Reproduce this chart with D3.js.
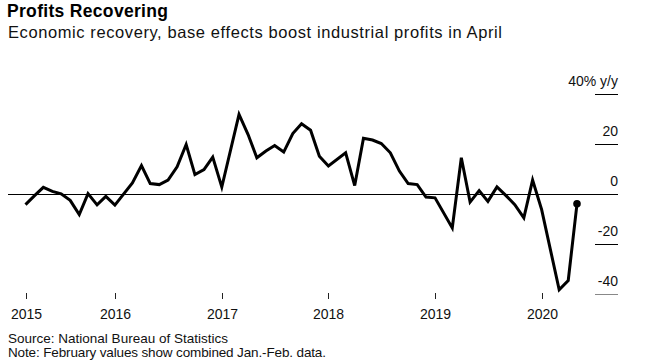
<!DOCTYPE html>
<html lang="en">
<head>
<meta charset="utf-8">
<script src="https://d3js.org/d3.v7.min.js"></script>
<style type="text/css">

body {
	margin: 0;
	background-color: #ffffff;
	font-family: "Liberation Sans", Arial, sans-serif;
}

.title {
	font-size: 17.5px;
	font-weight: 700;
	fill: #000;
}

.subtitle {
	font-size: 16.5px;
	fill: #111;
}

.axis text {
	font-size: 14px;
	fill: #111;
}

.foot {
	font-size: 13.5px;
	fill: #111;
}

</style>
</head>
<body>
<script type="text/javascript">

// chart data: monthly industrial profits, % y/y (Jan. folded into Feb.)
var months = [
	"2015-02","2015-03","2015-04","2015-05","2015-06","2015-07","2015-08","2015-09","2015-10","2015-11","2015-12",
	"2016-02","2016-03","2016-04","2016-05","2016-06","2016-07","2016-08","2016-09","2016-10","2016-11","2016-12",
	"2017-02","2017-03","2017-04","2017-05","2017-06","2017-07","2017-08","2017-09","2017-10","2017-11","2017-12",
	"2018-02","2018-03","2018-04","2018-05","2018-06","2018-07","2018-08","2018-09","2018-10","2018-11","2018-12",
	"2019-02","2019-03","2019-04","2019-05","2019-06","2019-07","2019-08","2019-09","2019-10","2019-11","2019-12",
	"2020-02","2020-03","2020-04"
];
var profits = [
	-4.3, -0.7, 2.6, 1.0, 0.0, -2.6, -8.3, 0.1, -4.4, -1.0, -4.5,
	4.4, 11.3, 4.1, 3.7, 5.5, 10.8, 19.7, 7.7, 9.7, 14.7, 2.7,
	31.7, 23.7, 14.4, 17.1, 19.3, 16.7, 24.1, 28.0, 25.4, 15.0, 11.1,
	16.4, 3.3, 22.2, 21.5, 20.1, 16.4, 9.1, 4.1, 3.7, -1.3, -1.6,
	-13.6, 14.4, -3.3, 1.3, -3.0, 2.8, -0.7, -4.3, -9.6, 5.5, -6.3,
	-38.3, -34.6, -4.0
];

var yearTicks = ["2015-03-01","2016-01-01","2017-01-01","2018-01-01","2019-01-01","2020-01-01"];
var yearLabels = ["2015","2016","2017","2018","2019","2020"];

var valueTicks = [40, 20, 0, -20, -40];
var valueLabels = ["40% y/y", "20", "0", "-20", "-40"];

var title = "Profits Recovering";
var subtitle = "Economic recovery, base effects boost industrial profits in April";
var source = "Source: National Bureau of Statistics";
var note = "Note: February values show combined Jan.-Feb. data.";

var width = 645;
var height = 361;

var parseMonth = d3.timeParse("%Y-%m");
var parseDay = d3.timeParse("%Y-%m-%d");

// each value sits at the end of its month
var data = months.map(function(m, i) {
	return { date: d3.timeMonth.offset(parseMonth(m), 1), value: profits[i] };
});

var x = d3.scaleTime()
	.domain([data[0].date, data[data.length - 1].date])
	.range([25.5, 577]);

var y = d3.scaleLinear()
	.domain([-40, 40])
	.range([294, 93.7]);

var svg = d3.select("body")
	.append("svg")
	.attr("width", width)
	.attr("height", height);

// headings (widths stretched a little to the wider original typeface)
svg.append("text").attr("class", "title").attr("x", 7).attr("y", 17)
	.attr("textLength", 161).attr("lengthAdjust", "spacing").text(title);
svg.append("text").attr("class", "subtitle").attr("x", 8).attr("y", 38)
	.attr("textLength", 494).attr("lengthAdjust", "spacing").text(subtitle);

// right value axis: short rules with labels above them
var yAxis = svg.append("g").attr("class", "axis");
valueTicks.forEach(function(v, i) {
	yAxis.append("line")
		.attr("x1", 595).attr("x2", 618)
		.attr("y1", Math.round(y(v)) + 0.5).attr("y2", Math.round(y(v)) + 0.5)
		.style("stroke", v === -40 ? "#888" : "#000")
		.style("stroke-width", 1);
	yAxis.append("text")
		.attr("x", 618)
		.attr("y", y(v) - 8)
		.attr("text-anchor", "end")
		.text(valueLabels[i]);
});

// zero line
svg.append("line")
	.attr("x1", 8).attr("x2", 618)
	.attr("y1", Math.round(y(0)) + 0.5).attr("y2", Math.round(y(0)) + 0.5)
	.style("stroke", "#000")
	.style("stroke-width", 1);

// bottom year axis
var xAxis = svg.append("g").attr("class", "axis");
yearTicks.forEach(function(t, i) {
	var px = Math.round(x(parseDay(t))) + 0.5;
	xAxis.append("line")
		.attr("x1", px).attr("x2", px)
		.attr("y1", 293).attr("y2", 299)
		.style("stroke", "#222")
		.style("stroke-width", 1);
	xAxis.append("text")
		.attr("x", px)
		.attr("y", 318.5)
		.attr("text-anchor", "middle")
		.text(yearLabels[i]);
});

// the profits line
var line = d3.line()
	.x(function(d) { return x(d.date); })
	.y(function(d) { return y(d.value); });

svg.append("path")
	.datum(data)
	.attr("d", line)
	.style("fill", "none")
	.style("stroke", "#000")
	.style("stroke-width", 3)
	.style("stroke-linejoin", "miter");

var last = data[data.length - 1];
svg.append("circle")
	.attr("cx", x(last.date))
	.attr("cy", y(last.value))
	.attr("r", 3.8)
	.style("fill", "#000");

// footnotes
svg.append("text").attr("class", "foot").attr("x", 8).attr("y", 343)
	.attr("textLength", 220).attr("lengthAdjust", "spacing").text(source);
svg.append("text").attr("class", "foot").attr("x", 8).attr("y", 357)
	.attr("textLength", 318).attr("lengthAdjust", "spacing").text(note);

</script>
</body>
</html>
